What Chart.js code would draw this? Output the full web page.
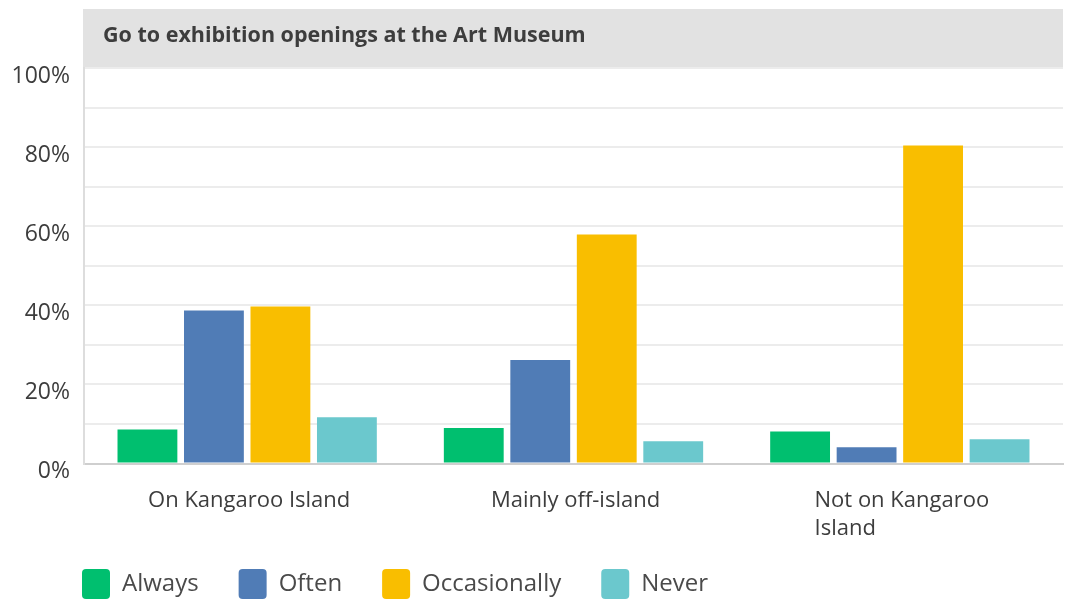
<!DOCTYPE html>
<html>
<head>
<meta charset="utf-8">
<script src="https://cdn.jsdelivr.net/npm/chart.js@4/dist/chart.umd.min.js"></script>
<style>
  html, body { margin: 0; padding: 0; background: #fff; }
  #wrap { width: 1065px; height: 603px; }
</style>
</head>
<body>
<div id="wrap"><canvas id="museum-chart" width="1065" height="603"></canvas></div>
<script>
// chart data
var chartTitle = 'Go to exhibition openings at the Art Museum';
var categories = ['On Kangaroo Island', 'Mainly off-island', ['Not on Kangaroo', 'Island']];
var seriesNames = ['Always', 'Often', 'Occasionally', 'Never'];
var alwaysValues = [8.6, 9.0, 8.1];
var oftenValues = [38.7, 26.2, 4.1];
var occasionallyValues = [39.7, 57.9, 80.4];
var neverValues = [11.7, 5.6, 6.1];
var yTickStep = 10;
var yLabelStep = 20;

var seriesColors = ['#00bf6f', '#507cb6', '#f9be00', '#6bc8cd'];
var textColor = '#3d3d3d';
var fontFamily = '"Open Sans", "Noto Sans", sans-serif';

// header bar + category labels (wrapped lines are left aligned in the reference)
var surveyDecor = {
    id: 'surveyDecor',
    afterLayout: function(chart) {
        // legend sits under the labels, lined up with the y axis line
        var legend = chart.legend;
        if (legend) {
            legend.left = chart.chartArea.left - 2 - legend.options.labels.padding;
            legend.top = chart.chartArea.bottom + 65.5;
        }
    },
    beforeDraw: function(chart) {
        var ctx = chart.ctx;
        var area = chart.chartArea;
        ctx.save();
        ctx.fillStyle = '#e2e2e2';
        ctx.fillRect(area.left - 1, 9, area.right - area.left + 1, area.top - 9);
        ctx.fillStyle = textColor;
        ctx.font = 'bold 21.5px ' + fontFamily;
        ctx.textBaseline = 'middle';
        ctx.textAlign = 'left';
        ctx.fillText(chartTitle, area.left + 19, 36);
        ctx.restore();
    },
    afterDraw: function(chart) {
        var ctx = chart.ctx;
        var xScale = chart.scales.x;
        ctx.save();
        ctx.fillStyle = textColor;
        ctx.font = '22px ' + fontFamily;
        ctx.textBaseline = 'middle';
        ctx.textAlign = 'left';
        categories.forEach(function(label, i) {
            var lines = [].concat(label);
            var widest = Math.max.apply(null, lines.map(function(l) { return ctx.measureText(l).width; }));
            var x0 = xScale.getPixelForValue(i) + 2 - widest / 2;
            lines.forEach(function(line, j) {
                ctx.fillText(line, x0, xScale.top + 37 + j * 28);
            });
        });
        ctx.restore();
    }
};

var datasets = [alwaysValues, oftenValues, occasionallyValues, neverValues].map(function(values, i) {
    return {
        label: seriesNames[i],
        data: values,
        backgroundColor: seriesColors[i],
        borderWidth: 0,
        categoryPercentage: 0.815,
        barPercentage: 0.9
    };
});

new Chart(document.getElementById('museum-chart').getContext('2d'), {
    type: 'bar',
    data: {
        labels: categories,
        datasets: datasets
    },
    plugins: [surveyDecor],
    options: {
        responsive: false,
        animation: false,
        layout: {
            padding: { top: 68, left: 0, right: 2, bottom: -6 }
        },
        plugins: {
            title: { display: false },
            tooltip: { enabled: false },
            legend: {
                position: 'bottom',
                align: 'start',
                labels: {
                    boxWidth: 28,
                    boxHeight: 30,
                    padding: 40,
                    useBorderRadius: true,
                    borderRadius: 4,
                    color: '#4a4a4a',
                    font: { family: fontFamily, size: 24 }
                }
            }
        },
        scales: {
            x: {
                grid: { display: false, drawTicks: false },
                border: { display: true, color: '#cfcfcf', width: 2 },
                ticks: { display: false },
                afterFit: function(scale) { scale.height = 65.5; }
            },
            y: {
                min: 0,
                max: 100,
                afterFit: function(scale) { scale.width = 84; },
                grid: {
                    drawTicks: false,
                    lineWidth: 2,
                    color: function(ctx) {
                        return ctx.tick && ctx.tick.value === 0 ? '#cfcfcf' : '#ececec';
                    }
                },
                border: { display: true, color: '#dddddd', width: 2 },
                ticks: {
                    stepSize: yTickStep,
                    padding: 14,
                    labelOffset: 8,
                    color: textColor,
                    font: { family: fontFamily, size: 23 },
                    callback: function(value) {
                        return value % yLabelStep === 0 ? value + '%' : '';
                    }
                }
            }
        }
    }
});
</script>
</body>
</html>
